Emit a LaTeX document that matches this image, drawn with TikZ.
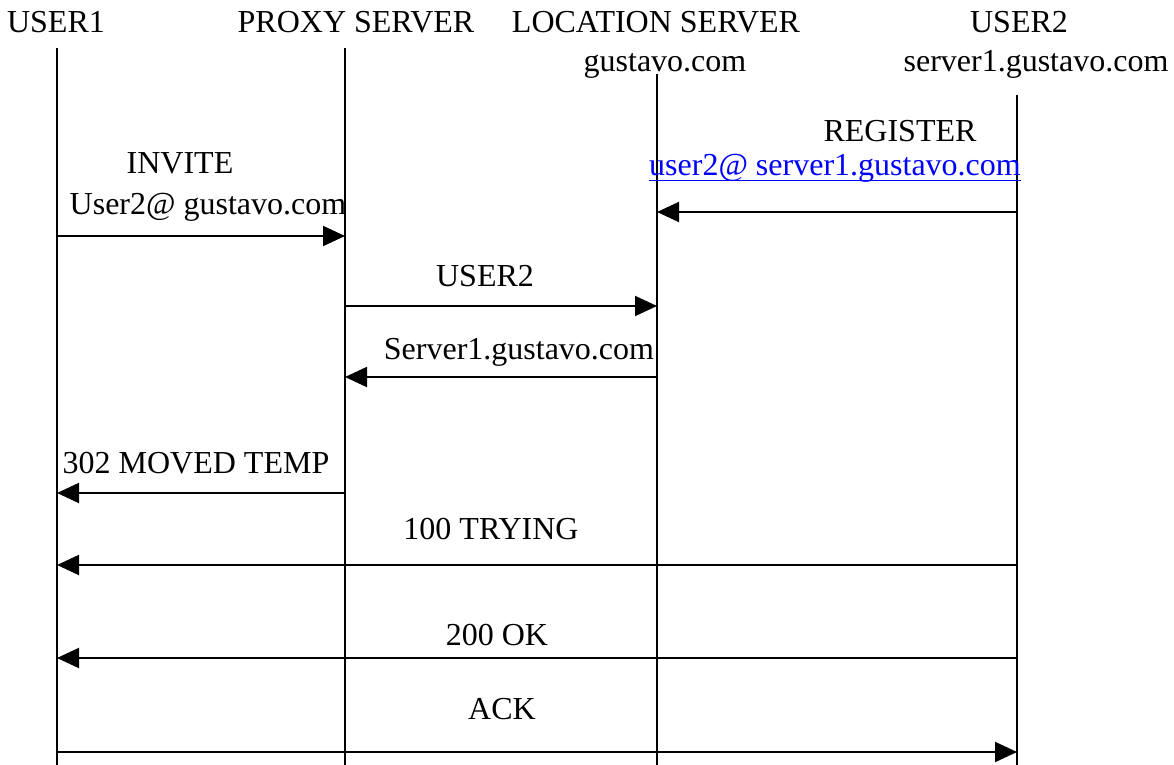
\documentclass[tikz,border=0pt]{standalone}
\usepackage{fontspec}
\setmainfont{Liberation Serif}
\usetikzlibrary{arrows.meta}

\definecolor{linkblue}{RGB}{0,0,255}
\tikzset{
  life/.style={line width=1pt},
  msg/.style={line width=1pt,-{Triangle[length=11pt,width=10pt]}},
  lbl/.style={inner sep=0pt,anchor=base,font=\fontsize{16}{19}\selectfont},
  uline/.style={linkblue,line width=0.6pt},
}

\begin{document}
\begin{tikzpicture}[x=0.5pt,y=-0.5pt]
\useasboundingbox (0,0) rectangle (1174,765);

% heads
\node[lbl] (user1) at (56,33) {USER1};
\node[lbl] (proxy) at (356,33) {PROXY SERVER};
\node[lbl] (loc) at (656,33) {LOCATION SERVER};
\node[lbl] (locdom) at (665,72) {gustavo.com};
\node[lbl] (user2) at (1019,33) {USER2};
\node[lbl] (user2dom) at (1036,72) {server1.gustavo.com};

% lifelines
\coordinate (u1top) at (57,48);   \coordinate (u1bot) at (57,765);
\coordinate (pxtop) at (345,48);  \coordinate (pxbot) at (345,765);
\coordinate (lctop) at (657,74);  \coordinate (lcbot) at (657,765);
\coordinate (u2top) at (1017,95); \coordinate (u2bot) at (1017,765);
\draw[life] (u1top) -- (u1bot);
\draw[life] (pxtop) -- (pxbot);
\draw[life] (lctop) -- (lcbot);
\draw[life] (u2top) -- (u2bot);

% REGISTER
\node[lbl] (register) at (900,141) {REGISTER};
\node[lbl,text=linkblue] (reguri) at (835,176) {user2@ server1.gustavo.com};
\draw[uline] ([yshift=-2.2pt]reguri.base west) -- ([yshift=-2.2pt]reguri.base east);
\coordinate (m0a) at (1017,212); \coordinate (m0b) at (657,212);
\draw[msg] (m0a) -- (m0b);

% INVITE
\node[lbl] (invite) at (180,174) {INVITE};
\node[lbl] (inviteuri) at (208,214) {User2@ gustavo.com};
\coordinate (m1a) at (57,236); \coordinate (m1b) at (345,236);
\draw[msg] (m1a) -- (m1b);

% query
\node[lbl] (query) at (485,286) {USER2};
\coordinate (m2a) at (345,306); \coordinate (m2b) at (657,306);
\draw[msg] (m2a) -- (m2b);

\node[lbl] (answer) at (519,359) {Server1.gustavo.com};
\coordinate (m3a) at (657,377); \coordinate (m3b) at (345,377);
\draw[msg] (m3a) -- (m3b);

% redirect
\node[lbl] (moved) at (196,473) {302 MOVED TEMP};
\coordinate (m4a) at (345,493); \coordinate (m4b) at (57,493);
\draw[msg] (m4a) -- (m4b);

\node[lbl] (trying) at (491,539) {100 TRYING};
\coordinate (m5a) at (1017,565); \coordinate (m5b) at (57,565);
\draw[msg] (m5a) -- (m5b);

\node[lbl] (ok) at (497,645) {200 OK};
\coordinate (m6a) at (1017,658); \coordinate (m6b) at (57,658);
\draw[msg] (m6a) -- (m6b);

\node[lbl] (ack) at (502,719) {ACK};
\coordinate (m7a) at (57,752); \coordinate (m7b) at (1017,752);
\draw[msg] (m7a) -- (m7b);
\end{tikzpicture}
\end{document}
